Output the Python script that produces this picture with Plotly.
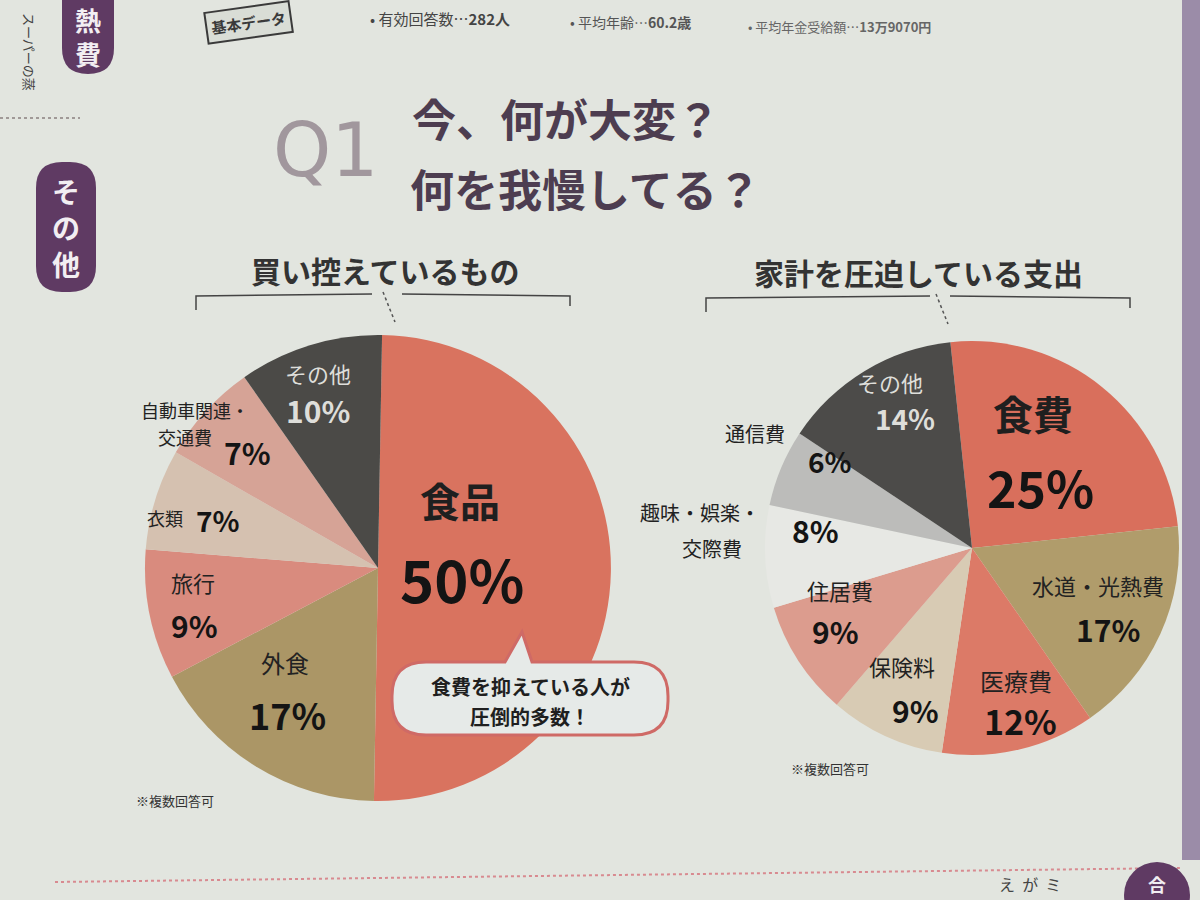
import plotly.graph_objects as go

# ---------------- data ----------------
left_labels = ["食品", "外食", "旅行", "衣類", "自動車関連・交通費", "その他"]
left_values = [50, 17, 9, 7, 7, 10]
left_colors = ["#d9735f", "#ab9666", "#d98b7e", "#d5c1b0", "#d6a396", "#4b4a47"]

right_labels = ["食費", "水道・光熱費", "医療費", "保険料", "住居費", "趣味・娯楽・交際費", "通信費", "その他"]
right_values = [25, 17, 12, 9, 9, 8, 6, 14]
right_colors = ["#d96f5c", "#b09c6b", "#dc7a67", "#d8cbb4", "#dc9c8e", "#e7e8e4", "#bcbcba", "#4c4b49"]

title_lines = ["今、何が大変？", "何を我慢してる？"]
left_title = "買い控えているもの"
right_title = "家計を圧迫している支出"
header_items = ["• 有効回答数…<b>282人</b>", "• 平均年齢…<b>60.2歳</b>", "• 平均年金受給額…<b>13万9070円</b>"]
note = "※複数回答可"
callout_lines = ["食費を抑えている人が", "圧倒的多数！"]

W, H = 1200, 900
FONT = "Noto Sans CJK JP"
BG = "#e2e5df"

fig = go.Figure()

# invisible trace to create pixel-coordinate axes for decorations
fig.add_trace(go.Scatter(x=[0, W], y=[0, H], mode="markers", marker=dict(opacity=0),
                         hoverinfo="skip", showlegend=False))


def dom(cx, cy, r):
    return dict(x=[(cx - r) / W, (cx + r) / W], y=[1 - (cy + r) / H, 1 - (cy - r) / H])


fig.add_trace(go.Pie(labels=left_labels, values=left_values, sort=False, direction="clockwise",
                     rotation=1, marker=dict(colors=left_colors, line=dict(width=0)),
                     textinfo="none", hoverinfo="label+percent", showlegend=False,
                     domain=dom(378, 568, 233)))
fig.add_trace(go.Pie(labels=right_labels, values=right_values, sort=False, direction="clockwise",
                     rotation=-6, marker=dict(colors=right_colors, line=dict(width=0)),
                     textinfo="none", hoverinfo="label+percent", showlegend=False,
                     domain=dom(972, 548, 207)))

ann = []


def txt(x, y, s, size, color="#222222", bold=False, anchor="center", family=FONT, angle=0):
    ann.append(dict(x=x, y=y, xref="x", yref="y", text=(f"<b>{s}</b>" if bold else s),
                    showarrow=False, xanchor=anchor, yanchor="middle", textangle=angle,
                    font=dict(size=size, color=color, family=family)))


# header
ann.append(dict(x=248, y=22, xref="x", yref="y", text="<b>基本データ</b>", showarrow=False,
                textangle=-8, font=dict(size=15, color="#3a3a3a", family=FONT),
                bordercolor="#3a3a3a", borderwidth=2, borderpad=4, bgcolor="#d9ddd6"))
txt(368, 18, header_items[0], 15, "#444444", anchor="left")
txt(568, 22, header_items[1], 14, "#555555", anchor="left")
txt(746, 26, header_items[2], 13, "#666666", anchor="left")

# Q1
txt(325, 150, "Q1", 74, "#a1979d", family="DejaVu Sans")

# title
txt(410, 118, title_lines[0], 44, "#4d3d50", bold=True, anchor="left")
txt(408, 188, title_lines[1], 44, "#4d3d50", bold=True, anchor="left")

# sub titles
txt(385, 270, left_title, 30, "#333333", bold=True)
txt(918, 272, right_title, 30, "#333333", bold=True)

# left pie labels
txt(460, 500, "食品", 40, "#1f1f1f", bold=True)
txt(462, 578, "50%", 58, "#141414", bold=True)
txt(285, 662, "外食", 24, "#222222")
txt(287, 714, "17%", 36, "#141414", bold=True)
txt(193, 582, "旅行", 22, "#222222")
txt(194, 625, "9%", 30, "#141414", bold=True)
txt(165, 518, "衣類", 18, "#222222")
txt(218, 520, "7%", 28, "#141414", bold=True)
txt(195, 410, "自動車関連・", 18, "#222222")
txt(185, 437, "交通費", 18, "#222222")
txt(247, 452, "7%", 30, "#141414", bold=True)
txt(318, 373, "その他", 22, "#dededa")
txt(318, 410, "10%", 30, "#dededa", bold=True)
txt(175, 800, note, 13, "#333333")

# right pie labels
txt(1033, 413, "食費", 40, "#1f1f1f", bold=True)
txt(1040, 486, "25%", 50, "#141414", bold=True)
txt(1098, 585, "水道・光熱費", 22, "#222222")
txt(1108, 629, "17%", 30, "#141414", bold=True)
txt(1016, 680, "医療費", 24, "#222222")
txt(1020, 720, "12%", 34, "#141414", bold=True)
txt(902, 666, "保険料", 22, "#222222")
txt(915, 710, "9%", 30, "#141414", bold=True)
txt(840, 590, "住居費", 22, "#222222")
txt(835, 631, "9%", 30, "#141414", bold=True)
txt(700, 512, "趣味・娯楽・", 20, "#222222")
txt(712, 548, "交際費", 20, "#222222")
txt(815, 530, "8%", 30, "#141414", bold=True)
txt(755, 433, "通信費", 20, "#222222")
txt(830, 461, "6%", 28, "#141414", bold=True)
txt(890, 382, "その他", 22, "#dededa")
txt(905, 418, "14%", 28, "#dededa", bold=True)
txt(830, 768, note, 13, "#333333")

shapes = []

# callout bubble
bx0, by0, bx1, by1, r = 392, 662, 668, 735, 34
bubble = (f"M {bx0+r},{by0} L 505,{by0} L 522,632 L 532,{by0} L {bx1-r},{by0} "
          f"Q {bx1},{by0} {bx1},{by0+r} L {bx1},{by1-r} Q {bx1},{by1} {bx1-r},{by1} "
          f"L {bx0+r},{by1} Q {bx0},{by1} {bx0},{by1-r} L {bx0},{by0+r} Q {bx0},{by0} {bx0+r},{by0} Z")
shapes.append(dict(type="path", path=bubble, xref="x", yref="y", fillcolor="#e6eae8",
                   line=dict(color="#cf6a66", width=3)))
txt(530, 686, callout_lines[0], 20, "#1f1f1f", bold=True)
txt(530, 716, callout_lines[1], 20, "#1f1f1f", bold=True)

# brackets under subtitles
for (x0, xm0, xm1, x1, yy) in [(196, 372, 402, 570, 296), (706, 930, 950, 1130, 298)]:
    shapes.append(dict(type="path", path=f"M {x0},{yy+14} L {x0},{yy} L {xm0},{yy-2}", xref="x", yref="y",
                       line=dict(color="#444444", width=1.5)))
    shapes.append(dict(type="path", path=f"M {xm1},{yy-2} L {x1},{yy} L {x1},{yy+10}", xref="x", yref="y",
                       line=dict(color="#444444", width=1.5)))
    shapes.append(dict(type="line", x0=(xm0 + xm1) / 2 - 4, y0=yy - 4, x1=(xm0 + xm1) / 2 + 8, y1=yy + 26,
                       xref="x", yref="y", line=dict(color="#555555", width=1.5, dash="dot")))

# left side tabs
for (x0, y0, x1, y1) in [(62, -30, 114, 74), (36, 162, 96, 292)]:
    rr = 26
    p = (f"M {x0+rr},{y0} L {x1-rr},{y0} Q {x1},{y0} {x1},{y0+rr} L {x1},{y1-rr} Q {x1},{y1} {x1-rr},{y1} "
         f"L {x0+rr},{y1} Q {x0},{y1} {x0},{y1-rr} L {x0},{y0+rr} Q {x0},{y0} {x0+rr},{y0} Z")
    shapes.append(dict(type="path", path=p, xref="x", yref="y", fillcolor="#5f3a63", line=dict(width=0)))
txt(88, 36, "熱<br>費", 26, "#f2eef2", bold=True)
txt(66, 227, "そ<br>の<br>他", 28, "#f2eef2", bold=True)
txt(30, 52, "スーパーの蒸", 13, "#444444", angle=90)

# page fold / right strip
shapes.append(dict(type="rect", x0=1182, x1=1200, y0=0, y1=860, xref="x", yref="y",
                   fillcolor="#9b8ca8", line=dict(width=0)))
shapes.append(dict(type="line", x0=0, x1=80, y0=118, y1=118, xref="x", yref="y",
                   line=dict(color="#8a8080", width=1.5, dash="dot")))
shapes.append(dict(type="line", x0=55, x1=1180, y0=882, y1=868, xref="x", yref="y",
                   line=dict(color="#d88a90", width=2, dash="dot")))
shapes.append(dict(type="circle", x0=1124, x1=1190, y0=862, y1=928, xref="x", yref="y",
                   fillcolor="#5f3a63", line=dict(width=0)))
txt(1157, 884, "合", 18, "#f2eef2", bold=True)
txt(1030, 884, "え  が  ミ", 16, "#444444")

fig.update_layout(
    width=W, height=H, margin=dict(l=0, r=0, t=0, b=0),
    paper_bgcolor=BG, plot_bgcolor=BG,
    xaxis=dict(range=[0, W], visible=False, domain=[0, 1], fixedrange=True),
    yaxis=dict(range=[H, 0], visible=False, domain=[0, 1], fixedrange=True),
    annotations=ann, shapes=shapes, showlegend=False,
    font=dict(family=FONT),
)

fig.write_html("out.html", config={"displayModeBar": False},
               post_script="document.body.style.margin='0';")
